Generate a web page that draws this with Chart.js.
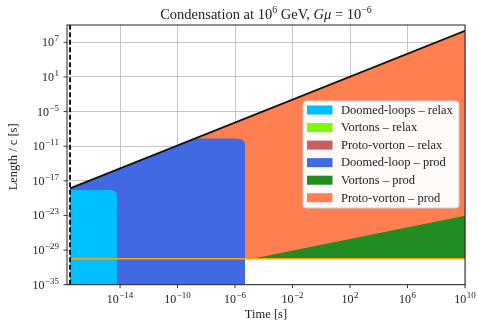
<!DOCTYPE html>
<html><head><meta charset="utf-8">
<script src="https://cdn.jsdelivr.net/npm/chart.js@4.4.1/dist/chart.umd.min.js"></script>
<style>html,body{margin:0;padding:0;background:#fff;} #wrap{width:478px;height:322px;position:relative}</style>
</head><body><div id="wrap"><canvas id="c" width="478" height="322"></canvas></div>
<script>
// All values are log10 exponents (time in s, length/c in s)
const xTickExps = [-14, -10, -6, -2, 2, 6, 10];
const yTickExps = [-35, -29, -23, -17, -11, -5, 1, 7];
const xRange = [-17.69, 10];
const yRange = [-35, 10];

// black boundary line
const boundaryT = [-17.48, 10];
const boundaryL = [-18.3, 9.0];
// dashed vertical line (time)
const dashedT = [-17.48, -17.48];
const dashedL = [-35, 10];
// orange horizontal line
const orangeLineT = [-17.48, 10];
const orangeLineL = [-30.5, -30.5];
// Doomed-loops – relax (cyan)
const cyanT = [-17.48, -14.85, -14.55, -14.35, -14.24, -14.19, -14.19];
const cyanL = [-18.57, -18.57, -18.62, -18.8, -19.2, -19.8, -35];
// Doomed-loop – prod (blue)
const blueT = [-17.48, -8.78, -6.1, -5.75, -5.5, -5.36, -5.3, -5.3];
const blueL = [-18.3, -9.66, -9.66, -9.72, -9.9, -10.2, -10.8, -35];
// Proto-vorton – prod (coral), top edge along the boundary
const protoT = [-9, 10];
const protoL = [-9.876, 9.0];
// Vortons – prod (green) top edge
const vortonT = [-4.8, 10];
const vortonL = [-30.5, -23.05];
// white region below the orange line
const emptyT = [-9, 10];
const emptyL = [-30.5, -30.5];

const legendLabels = ['Doomed-loops – relax', 'Vortons – relax', 'Proto-vorton – relax',
  'Doomed-loop – prod', 'Vortons – prod', 'Proto-vorton – prod'];
const legendColors = ['#00BFFF', '#7CFC00', '#CD5C5C', '#4169E1', '#228B22', '#FF7F50'];

const pts = (T, L) => T.map((t, i) => ({x: Math.pow(10, t), y: Math.pow(10, L[i])}));
const SERIF = '"Liberation Serif", "DejaVu Serif", serif';

function areaDs(T, L, color, order) {
  return {data: pts(T, L), fill: 'start', backgroundColor: color, borderWidth: 0,
    borderColor: color, pointRadius: 0, tension: 0, order: order};
}

const datasets = [
  areaDs(protoT, protoL, '#FF7F50', 8),
  areaDs(vortonT, vortonL, '#228B22', 7),
  areaDs(emptyT, emptyL, '#FFFFFF', 6),
  areaDs(blueT, blueL, '#4169E1', 5),
  areaDs(cyanT, cyanL, '#00BFFF', 4),
  {data: pts(orangeLineT, orangeLineL), fill: false, borderColor: '#FFA500', borderWidth: 1.6, pointRadius: 0, order: 3},
  {data: pts(boundaryT, boundaryL), fill: false, borderColor: '#111', borderWidth: 1.8, pointRadius: 0, order: 2},
  {data: pts(dashedT, dashedL), fill: false, borderColor: '#000', borderWidth: 1.8, borderDash: [5, 2.5], pointRadius: 0, order: 1}
];

function drawPow(ctx, x, y, exp, align, base) {
  const bf = base + 'px ' + SERIF, ef = Math.round(base * 0.72) + 'px ' + SERIF;
  const es = exp < 0 ? '\u2212' + Math.abs(exp) : String(exp);
  ctx.font = bf; const w1 = ctx.measureText('10').width;
  ctx.font = ef; const w2 = ctx.measureText(es).width;
  const w = w1 + w2 + 0.5;
  let x0 = align === 'right' ? x - w : align === 'center' ? x - w / 2 : x;
  ctx.textAlign = 'left'; ctx.textBaseline = 'alphabetic';
  ctx.font = bf; ctx.fillText('10', x0, y);
  ctx.font = ef; ctx.fillText(es, x0 + w1 + 0.5, y - base * 0.42);
  return w;
}

const deco = {
  id: 'deco',
  afterDraw(chart) {
    const ctx = chart.ctx, a = chart.chartArea, xs = chart.scales.x, ys = chart.scales.y;
    ctx.save();
    // frame
    ctx.strokeStyle = '#222'; ctx.lineWidth = 1;
    ctx.strokeRect(a.left, a.top, a.right - a.left, a.bottom - a.top);
    // ticks + labels
    ctx.fillStyle = '#222'; ctx.lineWidth = 0.9;
    xTickExps.forEach(e => {
      const px = xs.getPixelForValue(Math.pow(10, e));
      ctx.beginPath(); ctx.moveTo(px, a.bottom); ctx.lineTo(px, a.bottom + 3.5); ctx.stroke();
      drawPow(ctx, px, a.bottom + 18.5, e, 'center', 12);
    });
    yTickExps.forEach(e => {
      const py = ys.getPixelForValue(Math.pow(10, e));
      ctx.beginPath(); ctx.moveTo(a.left - 3.5, py); ctx.lineTo(a.left, py); ctx.stroke();
      drawPow(ctx, a.left - 8, py + 4, e, 'right', 12);
    });
    // axis titles
    ctx.font = '12.5px ' + SERIF; ctx.textAlign = 'center'; ctx.textBaseline = 'alphabetic';
    ctx.fillText('Time [s]', (a.left + a.right) / 2, 318);
    ctx.save(); ctx.translate(17, (a.top + a.bottom) / 2 + 2); ctx.rotate(-Math.PI / 2);
    ctx.fillText('Length / c [s]', 0, 0); ctx.restore();
    // title (mixed styles)
    const parts = [['Condensation at 10', 14.5, 0, ''], ['6', 10, -6, ''], [' GeV, ', 14.5, 0, ''],
      ['G\u03bc', 14.5, 0, 'italic '], [' = 10', 14.5, 0, ''], ['\u22126', 10, -6, '']];
    let tw = 0;
    parts.forEach(p => { ctx.font = p[3] + p[1] + 'px ' + SERIF; p.push(ctx.measureText(p[0]).width); tw += p[4]; });
    let tx = (a.left + a.right) / 2 - tw / 2;
    ctx.textAlign = 'left';
    parts.forEach(p => { ctx.font = p[3] + p[1] + 'px ' + SERIF; ctx.fillText(p[0], tx, 18.5 + p[2]); tx += p[4]; });
    // legend
    const bx = 303, by = 101, bw = 156, bh = 107, r = 3;
    ctx.beginPath();
    ctx.moveTo(bx + r, by); ctx.lineTo(bx + bw - r, by); ctx.quadraticCurveTo(bx + bw, by, bx + bw, by + r);
    ctx.lineTo(bx + bw, by + bh - r); ctx.quadraticCurveTo(bx + bw, by + bh, bx + bw - r, by + bh);
    ctx.lineTo(bx + r, by + bh); ctx.quadraticCurveTo(bx, by + bh, bx, by + bh - r);
    ctx.lineTo(bx, by + r); ctx.quadraticCurveTo(bx, by, bx + r, by); ctx.closePath();
    ctx.fillStyle = 'rgba(255,255,255,0.97)'; ctx.fill();
    ctx.strokeStyle = '#d0d0d0'; ctx.lineWidth = 1; ctx.stroke();
    ctx.font = '12.5px ' + SERIF; ctx.textBaseline = 'middle';
    legendLabels.forEach((lab, i) => {
      const cy = 110 + i * 17.55;
      ctx.fillStyle = legendColors[i]; ctx.fillRect(307, cy - 4.5, 25.5, 9);
      ctx.fillStyle = '#222'; ctx.fillText(lab, 341, cy + 0.5);
    });
    ctx.restore();
  }
};

new Chart(document.getElementById('c'), {
  type: 'line',
  data: {datasets},
  options: {
    responsive: false, animation: false, devicePixelRatio: 1,
    layout: {padding: {left: 0, right: 13, top: 25, bottom: 0}},
    plugins: {legend: {display: false}, tooltip: {enabled: false}, title: {display: false}},
    scales: {
      x: {type: 'logarithmic', min: Math.pow(10, xRange[0]), max: Math.pow(10, xRange[1]), z: 1,
        afterBuildTicks: s => { s.ticks = xTickExps.map(e => ({value: Math.pow(10, e)})); },
        ticks: {display: false}, border: {display: false},
        grid: {color: '#b8b8b8', lineWidth: 0.8, drawTicks: false},
        afterFit: s => { s.height = 37.3; }},
      y: {type: 'logarithmic', min: Math.pow(10, yRange[0]), max: Math.pow(10, yRange[1]), z: 1,
        afterBuildTicks: s => { s.ticks = yTickExps.map(e => ({value: Math.pow(10, e)})); },
        ticks: {display: false}, border: {display: false},
        grid: {color: '#b8b8b8', lineWidth: 0.8, drawTicks: false},
        afterFit: s => { s.width = 67; }}
    }
  },
  plugins: [deco]
});
</script></body></html>
